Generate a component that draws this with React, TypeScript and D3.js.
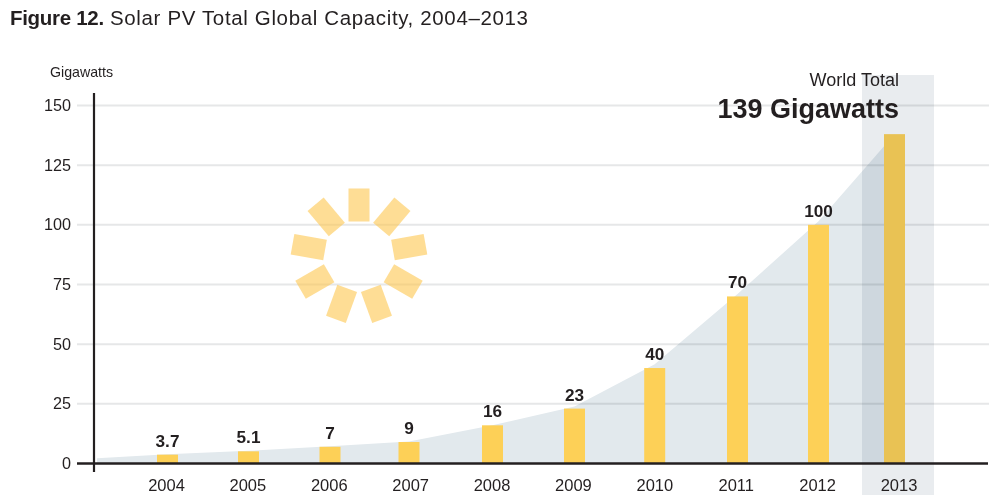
import React from "react";
import * as d3 from "d3";

const years = [2004,2005,2006,2007,2008,2009,2010,2011,2012,2013];
const capacity = [3.7,5.1,7,9,16,23,40,70,100,138];
const barLabels = ["3.7","5.1","7","9","16","23","40","70","100"];
const yTicks = [0,25,50,75,100,125,150];
const areaYears = [2003,2004,2005,2006,2007,2008,2009,2010,2011,2012,2013];
const areaValues = [2.2,3.9,5.3,7.2,9.2,16,23.9,41.6,71,101.5,138];
const rayAngles = [0,40,80,120,160,200,240,280,320];

const FONT = "'Liberation Sans', Arial, sans-serif";
const INK = "#231f20";

export default function App() {
  const y = d3.scaleLinear().domain([0,150]).range([463.5,105.5]);
  const xLabel = d3.scalePoint<number>().domain(years).range([166.5,899]);
  const xBar = d3.scaleLinear()
    .domain([2003,...years])
    .range([97,167.5,248.5,330,409,492.5,574.5,654.7,737.5,818.5,894.5]);
  const bw = 21;
  const area = d3.area<number>()
    .x((_, i) => xBar(areaYears[i]))
    .y0(y(0)).y1(d => y(d));
  return (
    <svg width={994} height={499} style={{position:"absolute",left:0,top:0,background:"#fff"}} fontFamily={FONT}>
      <text y={25} fontSize={20.5} fill={INK}>
        <tspan x={10} fontWeight="bold" letterSpacing={-0.3}>Figure 12.</tspan>
        <tspan x={110} letterSpacing={0.64}>Solar PV Total Global Capacity, 2004–2013</tspan>
      </text>
      <text x={50} y={77} fontSize={14.2} fill={INK}>Gigawatts</text>
      <path d={area(areaValues)!} fill="#e2e9ed"/>
      <rect x={862} y={75} width={72} height={420} fill="#b4bfc9" opacity={0.3} style={{mixBlendMode:"multiply"}}/>
      {yTicks.slice(1).map(t => (
        <line key={t} x1={77} x2={989} y1={y(t)} y2={y(t)} stroke="#e6e7e8" strokeWidth={2} style={{mixBlendMode:"multiply"}}/>
      ))}
      <g transform="translate(359,256)">
        {rayAngles.map(a => (
          <rect key={a} x={-10.5} y={-67.5} width={21} height={33} transform={`rotate(${a})`} fill="#fdc74e" opacity={0.6}/>
        ))}
      </g>
      {capacity.map((v,i) => (
        <rect key={years[i]} x={xBar(years[i])-bw/2} y={y(v)} width={bw} height={y(0)-y(v)} fill={i===9?"#e9c254":"#fdd057"}/>
      ))}
      <line x1={94} x2={94} y1={93} y2={472} stroke={INK} strokeWidth={2.2}/>
      <line x1={77} x2={988} y1={463.5} y2={463.5} stroke={INK} strokeWidth={2.4}/>
      {yTicks.map(t => (
        <text key={t} x={71} y={y(t)+5.5} textAnchor="end" fontSize={16.2} fill={INK}>{t}</text>
      ))}
      {years.map(yr => (
        <text key={yr} x={xLabel(yr)!} y={491} textAnchor="middle" fontSize={16.5} fill={INK}>{yr}</text>
      ))}
      {barLabels.map((l,i) => (
        <text key={l} x={xBar(years[i])} y={y(capacity[i])-8} textAnchor="middle" fontSize={17.2} fontWeight="bold" fill={INK}>{l}</text>
      ))}
      <text x={899} y={86} textAnchor="end" fontSize={18} fill={INK}>World Total</text>
      <text x={899} y={118} textAnchor="end" fontSize={27} fontWeight="bold" fill={INK}>139 Gigawatts</text>
    </svg>
  );
}
